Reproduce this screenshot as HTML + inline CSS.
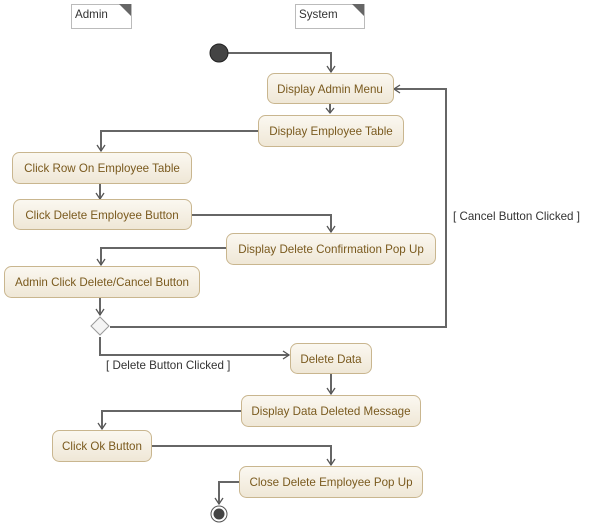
<!DOCTYPE html>
<html><head><meta charset="utf-8"><style>
html,body{margin:0;padding:0;background:#fff;width:589px;height:529px;overflow:hidden}
text{font-family:"Liberation Sans",sans-serif;font-size:11.6px}
.n{fill:#7a5a1e;text-anchor:middle}
.b{fill:url(#g);stroke:#c9b68f;stroke-width:1}
.l{fill:none;stroke:#666;stroke-width:2}
.a{fill:none;stroke:#555;stroke-width:1.3}
</style></head><body>
<svg width="589" height="529" xmlns="http://www.w3.org/2000/svg">
<defs><linearGradient id="g" x1="0" y1="0" x2="0" y2="1"><stop offset="0" stop-color="#fbf8f1"/><stop offset="1" stop-color="#efe7d6"/></linearGradient></defs>
<path d="M71.5,4.5 H131.5 V28.5 H71.5 Z" fill="#fff" stroke="#bbb"/>
<path d="M119,4 L131,16 L131,4 Z" fill="#666"/>
<text x="75" y="18" fill="#333">Admin</text>
<path d="M295.5,4.5 H364.5 V28.5 H295.5 Z" fill="#fff" stroke="#bbb"/>
<path d="M352,4 L364,16 L364,4 Z" fill="#666"/>
<text x="299" y="18" fill="#333">System</text>
<path class="l" d="M228,53 H331 V72"/>
<path class="l" d="M330,104 V113"/>
<path class="l" d="M258,131 H101 V151"/>
<path class="l" d="M100,184 V199"/>
<path class="l" d="M191,215 H331 V232"/>
<path class="l" d="M226,248 H101 V265"/>
<path class="l" d="M100,298 V315"/>
<path class="l" d="M110,327 H446 V89 H395"/>
<path class="l" d="M100,337 V355 H289"/>
<path class="l" d="M331,373 V394"/>
<path class="l" d="M241,411 H102 V429"/>
<path class="l" d="M151,446 H331 V465"/>
<path class="l" d="M239,482 H219 V504"/>
<g class="a">
<path d="M327,66 L331,72 L335,66"/><path d="M326,108 L330,113 L334,108"/>
<path d="M97,145 L101,151 L105,145"/><path d="M96,193 L100,199 L104,193"/>
<path d="M327,226 L331,232 L335,226"/><path d="M97,259 L101,265 L105,259"/>
<path d="M96,309 L100,315 L104,309"/><path d="M400,85 L394,89 L400,93"/>
<path d="M283,351 L289,355 L283,359"/><path d="M327,388 L331,394 L335,388"/>
<path d="M98,423 L102,429 L106,423"/><path d="M327,459 L331,465 L335,459"/>
<path d="M215,498 L219,504 L223,498"/>
</g>
<circle cx="219" cy="53" r="9" fill="#444" stroke="#222"/>
<circle cx="219" cy="514" r="8" fill="#fff" stroke="#555"/>
<circle cx="219" cy="514" r="5.5" fill="#444"/>
<path d="M100,317 L109,326 L100,335 L91,326 Z" fill="#f4f4f4" stroke="#999"/>
<rect class="b" x="267.5" y="73.5" width="126" height="30" rx="7"/><text class="n" x="330" y="93">Display Admin Menu</text>
<rect class="b" x="258.5" y="115.5" width="145" height="31" rx="7"/><text class="n" x="331" y="135">Display Employee Table</text>
<rect class="b" x="12.5" y="152.5" width="179" height="31" rx="7"/><text class="n" x="102" y="172">Click Row On Employee Table</text>
<rect class="b" x="13.5" y="199.5" width="178" height="30" rx="7"/><text class="n" x="102" y="219">Click Delete Employee Button</text>
<rect class="b" x="226.5" y="233.5" width="209" height="31" rx="7"/><text class="n" x="331" y="253">Display Delete Confirmation Pop Up</text>
<rect class="b" x="4.5" y="266.5" width="195" height="31" rx="7"/><text class="n" x="102" y="286">Admin Click Delete/Cancel Button</text>
<rect class="b" x="290.5" y="343.5" width="81" height="30" rx="7"/><text class="n" x="331" y="363">Delete Data</text>
<rect class="b" x="241.5" y="395.5" width="179" height="31" rx="7"/><text class="n" x="331" y="415">Display Data Deleted Message</text>
<rect class="b" x="52.5" y="430.5" width="99" height="31" rx="7"/><text class="n" x="102" y="450">Click Ok Button</text>
<rect class="b" x="239.5" y="466.5" width="183" height="31" rx="7"/><text class="n" x="331" y="486">Close Delete Employee Pop Up</text>
<text x="453" y="220" fill="#333">[ Cancel Button Clicked ]</text>
<text x="106" y="369" fill="#333">[ Delete Button Clicked ]</text>
</svg>
</body></html>
